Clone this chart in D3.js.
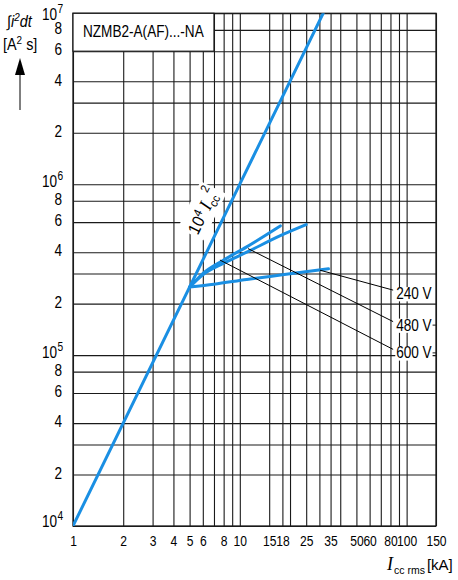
<!DOCTYPE html>
<html>
<head>
<meta charset="utf-8">
<script src="https://cdn.jsdelivr.net/npm/d3@7"></script>
<style>
  body { margin: 0; background: #fff; }
  svg { display: block; font-family: "Liberation Sans", Arial, sans-serif; }
</style>
</head>
<body>
<svg id="chart" width="458" height="580"></svg>
<script>
// grid lines and tick labels
var xGrid = [1, 2, 3, 4, 5, 6, 7, 8, 9, 10, 15, 18, 20, 25, 30, 35, 40, 50, 60, 70, 80, 90, 100, 150];
var xLabels = [1, 2, 3, 4, 5, 6, 8, 10, 15, 18, 25, 35, 50, 60, 80, 100, 150];
var yGrid = [1e4, 2e4, 3e4, 4e4, 6e4, 8e4, 1e5, 2e5, 3e5, 4e5, 6e5, 8e5,
             1e6, 2e6, 3e6, 4e6, 6e6, 8e6, 1e7];
var yLabels = [1e4, 2e4, 4e4, 6e4, 8e4, 1e5, 2e5, 4e5, 6e5, 8e5,
               1e6, 2e6, 4e6, 6e6, 8e6, 1e7];

// let-through energy  [Icc kA, i2t A2s]
var line10k = [[1, 1e4], [10, 1e6], [31.6, 1e7]];
var curve240 = [[5, 2.5e5], [7, 2.6e5], [11, 2.77e5], [18, 2.95e5], [34, 3.2e5]];
var curve480 = [[5, 2.5e5], [6, 2.95e5], [8, 3.45e5], [11, 4.0e5], [17.5, 5.0e5], [25, 5.8e5]];
var curve600 = [[5, 2.5e5], [6, 3.0e5], [8, 3.6e5], [11, 4.3e5], [17.5, 5.7e5]];

// voltage call-outs
var voltLabels = ["240 V", "480 V", "600 V"];
var leaderFrom = [[30.2, 3.14e5], [11.2, 4.2e5], [7.6, 3.6e5]];
var leaderTo = [[83, 2.4e5], [83, 1.57e5], [83, 1.08e5]];
var annAt = [5.6, 5.0e5];

var svg = d3.select("#chart");
var x = d3.scaleLog().domain([1, 150]).range([73, 436]);
var y = d3.scaleLog().domain([1e4, 1e7]).range([526, 13.3]);
var ink = "#1a1a1a", blue = "#1a8fe3";
var plotW = x(150) - x(1), plotH = y(1e4) - y(1e7);

// the original face is a condensed sans, squeeze Liberation Sans horizontally
function squeeze(t, k) {
  var x0 = +t.attr("x") || 0, y0 = +t.attr("y") || 0;
  t.attr("x", 0).attr("y", 0)
    .attr("transform", "translate(" + x0 + "," + y0 + ") scale(" + k + ",1)");
  return t;
}

//vertical grid + x labels
var xAxis = d3.axisBottom(x)
  .tickValues(xGrid)
  .tickSize(-plotH)
  .tickPadding(9)
  .tickFormat(function(d) { return xLabels.indexOf(d) >= 0 ? d : ""; });
var gx = svg.append("g")
  .attr("transform", "translate(0," + y(1e4) + ")")
  .call(xAxis);
gx.attr("font-family", null).attr("font-size", 15.5);
gx.select(".domain").remove();
gx.selectAll("line").attr("stroke", ink).attr("stroke-width", 1.1);
gx.selectAll("text").attr("fill", "#000").attr("transform", "scale(0.78,1)");

//horizontal grid
var yAxis = d3.axisLeft(y).tickValues(yGrid).tickSize(-plotW).tickFormat("");
var gy = svg.append("g")
  .attr("transform", "translate(" + x(1) + ",0)")
  .call(yAxis);
gy.select(".domain").remove();
gy.selectAll("line").attr("stroke", ink).attr("stroke-width", 1.1);

//y labels
var yl = svg.append("g").attr("font-size", 16).attr("fill", "#000");
yLabels.forEach(function(d) {
  var e = Math.floor(Math.log10(d) + 1e-9);
  var m = Math.round(d / Math.pow(10, e));
  if (m === 1) {
    var off = d === 1e7 ? 6.5 : (d === 1e4 ? 0.5 : 3);
    squeeze(yl.append("text").attr("x", 57).attr("y", y(d) + off)
      .attr("text-anchor", "end").text("10"), 0.85);
    squeeze(yl.append("text").attr("x", 57.5).attr("y", y(d) + off - 7)
      .attr("font-size", 12).text(e), 0.85);
  } else {
    squeeze(yl.append("text").attr("x", 62).attr("y", y(d) + 4.2)
      .attr("text-anchor", "end").text(m), 0.85);
  }
});

//plot frame
svg.append("rect")
  .attr("x", x(1)).attr("y", y(1e7))
  .attr("width", plotW).attr("height", plotH)
  .attr("fill", "none").attr("stroke", ink).attr("stroke-width", 1.3);

//type label box
svg.append("rect")
  .attr("x", x(1)).attr("y", y(1e7))
  .attr("width", x(7) - x(1)).attr("height", y(6e6) - y(1e7))
  .attr("fill", "#fff").attr("stroke", ink).attr("stroke-width", 1.2);
squeeze(svg.append("text")
  .attr("x", x(1) + 10).attr("y", 36.5)
  .attr("font-size", 16).attr("fill", "#000")
  .text("NZMB2-A(AF)...-NA"), 0.85);

//10^4 Icc^2 annotation, rotated along the line
var p0 = [x(line10k[0][0]), y(line10k[0][1])];
var p1 = [x(line10k[1][0]), y(line10k[1][1])];
var ang = Math.atan2(p1[1] - p0[1], p1[0] - p0[0]) * 180 / Math.PI;
var ann = svg.append("g")
  .attr("transform", "translate(" + x(annAt[0]) + "," + y(annAt[1]) + ") rotate(" + ang + ") scale(0.92,1)");
var annBg = ann.append("rect").attr("fill", "#fff");
var at = ann.append("text").attr("font-size", 17).attr("fill", "#000");
at.append("tspan").text("10");
at.append("tspan").attr("font-size", 12).attr("dy", -6).text("4");
at.append("tspan").attr("dy", 6).attr("dx", 4)
  .attr("font-family", "Liberation Serif, serif").attr("font-style", "italic")
  .attr("font-size", 19).text("I");
at.append("tspan").attr("font-size", 12).attr("dy", 4).text("cc");
at.append("tspan").attr("font-size", 12).attr("dy", -14).attr("dx", -2).text("2");
var bb = at.node().getBBox();
annBg.attr("x", bb.x - 2).attr("y", bb.y - 1).attr("width", bb.width + 4).attr("height", bb.height + 2);

//curves
var line = d3.line()
  .x(function(d) { return x(d[0]); })
  .y(function(d) { return y(d[1]); })
  .curve(d3.curveMonotoneX);
svg.append("clipPath").attr("id", "plotClip").append("rect")
  .attr("x", x(1)).attr("y", y(1e7)).attr("width", plotW).attr("height", plotH);
var gc = svg.append("g").attr("clip-path", "url(#plotClip)");
[line10k, curve240, curve480, curve600].forEach(function(c) {
  gc.append("path").datum(c)
    .attr("d", line)
    .attr("fill", "none")
    .attr("stroke", blue)
    .attr("stroke-width", 3)
    .attr("stroke-linecap", "round");
});

//leaders + voltage labels
voltLabels.forEach(function(lab, i) {
  var a = leaderFrom[i], b = leaderTo[i];
  svg.append("line")
    .attr("x1", x(a[0])).attr("y1", y(a[1]))
    .attr("x2", x(b[0])).attr("y2", y(b[1]))
    .attr("stroke", "#000").attr("stroke-width", 1);
  var k = 0.85, lx = x(b[0]) + 3, ly = y(b[1]) + 9;
  var g = svg.append("g")
    .attr("transform", "translate(" + lx + "," + ly + ") scale(" + k + ",1)");
  var bg = g.append("rect").attr("fill", "#fff");
  var t = g.append("text").attr("font-size", 16).attr("fill", "#000").text(lab);
  var tb = t.node().getBBox();
  bg.attr("x", tb.x - 1).attr("y", tb.y + 2).attr("width", tb.width + 2).attr("height", tb.height - 3);
  if (i > 0) {
    svg.append("line")
      .attr("x1", lx + (tb.x + tb.width + 1) * k).attr("x2", x(150))
      .attr("y1", y(b[1]) + 3.5).attr("y2", y(b[1]) + 3.5)
      .attr("stroke", ink).attr("stroke-width", 1);
  }
});

//axis titles
var ty = svg.append("text").attr("x", 7).attr("y", 27)
  .attr("font-size", 16).attr("font-style", "italic").attr("fill", "#000");
ty.append("tspan").text("\u222Bi");
ty.append("tspan").attr("font-size", 11).attr("dy", -6).text("2");
ty.append("tspan").attr("dy", 6).text("dt");
squeeze(ty, 0.9);

var tu = svg.append("text").attr("x", 3).attr("y", 50)
  .attr("font-size", 16).attr("fill", "#000");
tu.append("tspan").text("[A");
tu.append("tspan").attr("font-size", 11).attr("dy", -6).text("2");
tu.append("tspan").attr("dy", 6).text(" s]");
squeeze(tu, 0.9);

svg.append("line").attr("x1", 20).attr("x2", 20).attr("y1", 110).attr("y2", 72)
  .attr("stroke", "#000").attr("stroke-width", 1);
svg.append("path").attr("d", "M20,58L15,75L25,75Z").attr("fill", "#000");

var tx = svg.append("text").attr("x", 387).attr("y", 570).attr("fill", "#000");
tx.append("tspan").attr("font-family", "Liberation Serif, serif").attr("font-style", "italic")
  .attr("font-size", 18).text("I");
tx.append("tspan").attr("font-size", 10.5).attr("dy", 4).attr("dx", 1).text("cc rms");
tx.append("tspan").attr("font-size", 15).attr("dy", -4).attr("dx", 2).text("[kA]");
</script>
</body>
</html>
